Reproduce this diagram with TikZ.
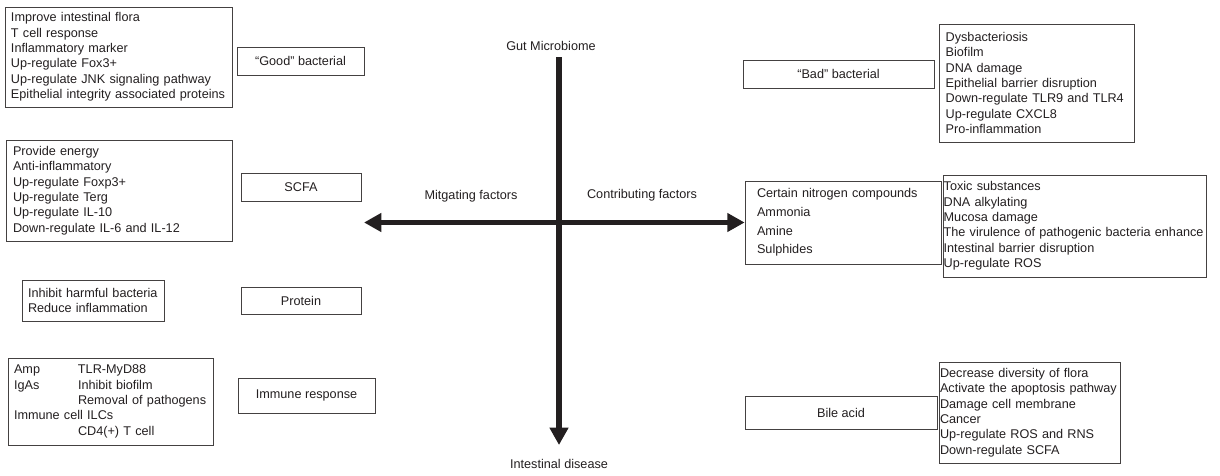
\documentclass[tikz,border=0pt]{standalone}
\usepackage{fontspec}
\setmainfont{Liberation Sans}
\usetikzlibrary{arrows.meta}
\definecolor{ink}{HTML}{231F20}
\begin{document}
\begin{tikzpicture}[x=0.75pt,y=-0.75pt,
  box/.style={draw=ink!85,line width=0.6pt,text=ink,font=\fontsize{9.5}{11.5}\selectfont,inner ysep=0pt},
  listbox/.style={box,align=left},
  lbl/.style={text=ink,font=\fontsize{9.5}{11.5}\selectfont,inner sep=0pt},
  axis/.style={draw=ink,line width=4.2pt,>={Triangle[length=13pt,width=13.5pt]}}]
\useasboundingbox (0,0) rectangle (1220,475);
% mitigating side
\node[listbox,minimum width=170.25pt,minimum height=75pt,inner xsep=4.5pt,text width=161.25pt] (goodlist) at (118.5,57) {Improve intestinal flora\\T cell response\\Inflammatory marker\\Up-regulate Fox3+\\Up-regulate JNK signaling pathway\\Epithelial integrity associated proteins};
\node[box,minimum width=95.25pt,minimum height=21pt] (good) at (300.5,61) {“Good” bacterial};
\node[listbox,minimum width=169.5pt,minimum height=75.75pt,inner xsep=5.25pt,text width=159pt] (scfalist) at (119,190.5) {Provide energy\\Anti-inflammatory\\Up-regulate Foxp3+\\Up-regulate Terg\\Up-regulate IL-10\\Down-regulate IL-6 and IL-12};
\node[box,minimum width=90pt,minimum height=21pt] (scfa) at (301,187) {SCFA};
\node[listbox,minimum width=106.5pt,minimum height=30.75pt,inner xsep=4.5pt,text width=97.5pt] (protlist) at (93,300.5) {Inhibit harmful bacteria\\Reduce inflammation};
\node[box,minimum width=90pt,minimum height=20.25pt] (prot) at (301,300.5) {Protein};
\node[listbox,minimum width=153.75pt,minimum height=65.25pt,inner xsep=4.5pt,text width=144.75pt] (immlist) at (110.5,401.5) {\makebox[48pt][l]{Amp}TLR-MyD88\\\makebox[48pt][l]{IgAs}Inhibit biofilm\\\hspace*{48pt}Removal of pathogens\\Immune cell ILCs\\\hspace*{48pt}CD4(+) T cell};
\node[box,minimum width=102.75pt,minimum height=26.25pt] (imm) at (306.5,395.5) {Immune response};
% contributing side
\node[box,minimum width=143.25pt,minimum height=21pt] (bad) at (838.5,74) {“Bad” bacterial};
\node[listbox,minimum width=146.25pt,minimum height=88.5pt,inner xsep=5pt,text width=136.25pt] (badlist) at (1036.5,83) {Dysbacteriosis\\Biofilm\\DNA damage\\Epithelial barrier disruption\\Down-regulate TLR9 and TLR4\\Up-regulate CXCL8\\Pro-inflammation};
\node[listbox,minimum width=147pt,minimum height=62.25pt,inner xsep=9pt,text width=129pt,font=\fontsize{9.5}{14}\selectfont] (nitro) at (843,222.5) {Certain nitrogen compounds\\Ammonia\\Amine\\Sulphides};
\node[listbox,minimum width=197.25pt,minimum height=76.5pt,inner xsep=0.5pt,text width=196.25pt] (toxic) at (1074.5,226) {Toxic substances\\DNA alkylating\\Mucosa damage\\The virulence of pathogenic bacteria enhance\\Intestinal barrier disruption\\Up-regulate ROS};
\node[box,minimum width=144pt,minimum height=24.75pt] (bile) at (841,412.5) {Bile acid};
\node[listbox,minimum width=135.75pt,minimum height=75.75pt,inner xsep=0.75pt,text width=134.25pt] (bilelist) at (1029.5,412.5) {Decrease diversity of flora\\Activate the apoptosis pathway\\Damage cell membrane\\Cancer\\Up-regulate ROS and RNS\\Down-regulate SCFA};
% axes
\node[lbl] (gut) at (551,46) {Gut Microbiome};
\node[lbl] (mit) at (471,196) {Mitgating factors};
\node[lbl] (con) at (642,195) {Contributing factors};
\node[lbl] (dis) at (559,464) {Intestinal disease};
\coordinate (top) at (559,57);
\coordinate (bot) at (559,445);
\coordinate (west) at (364,222.5);
\draw[axis,<->] (west) -- (nitro.west);
\draw[axis,->] (top) -- (bot);
\end{tikzpicture}
\end{document}
